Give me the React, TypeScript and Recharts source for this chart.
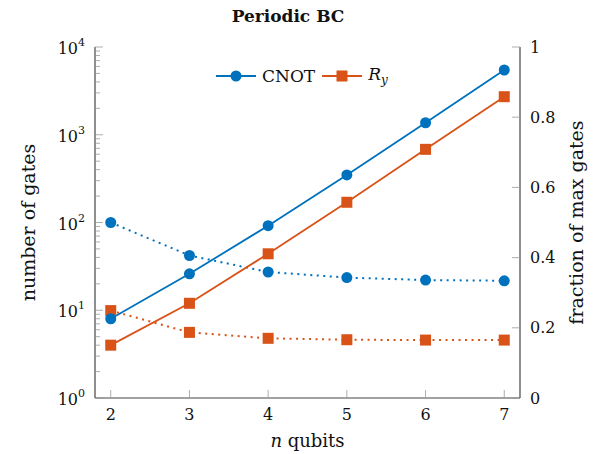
import React from "react";
import { LineChart, Line, XAxis, YAxis, Legend } from "recharts";

// n qubits
const qubits = [2, 3, 4, 5, 6, 7];
// number of gates (left, log axis)
const cnotGates = [8, 26, 92, 348, 1370, 5470];
const ryGates = [4, 12, 44, 170, 682, 2715];
// fraction of max gates (right axis)
const cnotFraction = [0.5, 0.406, 0.359, 0.343, 0.336, 0.334];
const ryFraction = [0.249, 0.187, 0.17, 0.166, 0.165, 0.165];

const leftTicks = [1, 2, 3, 4, 5, 6, 7, 8, 9, 10, 20, 30, 40, 50, 60, 70, 80, 90, 100, 200, 300, 400, 500, 600, 700, 800, 900, 1000, 2000, 3000, 4000, 5000, 6000, 7000, 8000, 9000, 10000];
const rightTicks = [0, 0.2, 0.4, 0.6, 0.8, 1];

const data = qubits.map((n, i) => ({
  n,
  cnot: cnotGates[i],
  ry: ryGates[i],
  cnotFrac: cnotFraction[i],
  ryFrac: ryFraction[i],
}));

const BLUE = "#0072bd";
const ORANGE = "#d95319";
const FRAME = { stroke: "#444", strokeWidth: 1.2 };
const TICK = "#999";
const FONT = "DejaVu Serif";
const MAJOR = 8;
const MINOR = 5;
const MARGIN = 10;

const LeftTick = (props: any) => {
  const { x, y, payload } = props;
  const exp = Math.log10(payload.value);
  const major = Math.abs(exp - Math.round(exp)) < 1e-6;
  const ax = x + MARGIN;
  return (
    <g>
      <line x1={ax} x2={ax + (major ? MAJOR : MINOR)} y1={y} y2={y} stroke={TICK} strokeWidth={0.8} />
      {major && (
        <text x={x} y={y} dy="0.45em" textAnchor="end" style={{ fontFamily: FONT }} fontSize={16} fill="#111">
          10<tspan dy={-8} fontSize={11}>{Math.round(exp)}</tspan>
        </text>
      )}
    </g>
  );
};

const RightTick = (props: any) => {
  const { x, y, payload } = props;
  const ax = x - MARGIN;
  return (
    <g>
      <line x1={ax} x2={ax - MAJOR} y1={y} y2={y} stroke={TICK} strokeWidth={0.8} />
      <text x={x} y={y} dy="0.35em" textAnchor="start" style={{ fontFamily: FONT }} fontSize={16} fill="#111">
        {payload.value}
      </text>
    </g>
  );
};

const BottomTick = (props: any) => {
  const { x, y, payload } = props;
  const ay = y - 8;
  return (
    <g>
      <line x1={x} x2={x} y1={ay} y2={ay - MAJOR} stroke={TICK} strokeWidth={0.8} />
      <text x={x} y={y} dy="0.85em" textAnchor="middle" style={{ fontFamily: FONT }} fontSize={16} fill="#111">
        {payload.value}
      </text>
    </g>
  );
};

const TopTick = (props: any) => {
  const { x, y } = props;
  const ay = y + 2;
  return <line x1={x} x2={x} y1={ay} y2={ay + MAJOR} stroke={TICK} strokeWidth={0.8} />;
};

const SquareDot = (props: any) => {
  const { cx, cy, index } = props;
  if (cx == null || cy == null) return null;
  return <rect key={index} x={cx - 5.5} y={cy - 5.5} width={11} height={11} fill={ORANGE} />;
};

const legendItems = [
  { key: "cnot", color: BLUE, marker: "circle", label: <span>CNOT</span> },
  {
    key: "ry",
    color: ORANGE,
    marker: "square",
    label: (
      <span>
        <i>R</i>
        <sub style={{ fontSize: 12 }}>
          <i>y</i>
        </sub>
      </span>
    ),
  },
];

const LegendContent = () => (
  <div style={{ display: "flex", alignItems: "center", fontFamily: FONT, fontSize: 17, color: "#111" }}>
    {legendItems.map((item) => (
      <div key={item.key} style={{ display: "flex", alignItems: "center", marginRight: 6 }}>
        <svg width={42} height={14}>
          <line x1={1} x2={41} y1={7} y2={7} stroke={item.color} strokeWidth={1.8} />
          {item.marker === "circle" ? (
            <circle cx={21} cy={7} r={5.5} fill={item.color} />
          ) : (
            <rect x={15.5} y={1.5} width={11} height={11} fill={item.color} />
          )}
        </svg>
        <span style={{ marginLeft: 5 }}>{item.label}</span>
      </div>
    ))}
  </div>
);

export default function App() {
  return (
    <div style={{ position: "absolute", left: 0, top: 0, width: 593, height: 454, background: "#fff" }}>
      <div
        style={{
          position: "absolute",
          top: 6,
          left: 188,
          width: 200,
          textAlign: "center",
          fontFamily: FONT,
          fontSize: 17,
          fontWeight: "bold",
          color: "#111",
        }}
      >
        Periodic BC
      </div>
      <LineChart width={593} height={454} data={data} margin={{ top: 47, right: 0, bottom: 0, left: 0 }}>
        <XAxis
          dataKey="n"
          type="number"
          domain={[1.8, 7.2]}
          ticks={qubits}
          axisLine={FRAME}
          tickSize={0}
          tickMargin={8}
          tick={<BottomTick />}
          height={56}
          label={{
            content: (p: any) => {
              const vb = p.viewBox;
              return (
                <text x={vb.x + vb.width / 2} y={vb.y + 49} textAnchor="middle" style={{ fontFamily: FONT }} fontSize={18} fill="#111">
                  <tspan fontStyle="italic">n</tspan> qubits
                </text>
              );
            },
          }}
        />
        <XAxis
          xAxisId="top"
          dataKey="n"
          type="number"
          orientation="top"
          domain={[1.8, 7.2]}
          ticks={qubits}
          axisLine={FRAME}
          tickSize={0}
          tickMargin={2}
          tick={<TopTick />}
          height={0}
        />
        <YAxis
          yAxisId="left"
          scale="log"
          domain={[1, 10000]}
          allowDataOverflow
          ticks={leftTicks}
          interval={0}
          axisLine={FRAME}
          tickSize={0}
          tickMargin={MARGIN}
          tick={<LeftTick />}
          width={95}
          label={{
            content: (p: any) => {
              const vb = p.viewBox;
              const cy = vb.y + vb.height / 2;
              return (
                <text x={30} y={cy} transform={`rotate(-90 30 ${cy})`} textAnchor="middle" dominantBaseline="middle" style={{ fontFamily: FONT }} fontSize={19} fill="#111">
                  number of gates
                </text>
              );
            },
          }}
        />
        <YAxis
          yAxisId="right"
          orientation="right"
          domain={[0, 1]}
          ticks={rightTicks}
          interval={0}
          axisLine={FRAME}
          tickSize={0}
          tickMargin={MARGIN}
          tick={<RightTick />}
          width={73}
          label={{
            content: (p: any) => {
              const vb = p.viewBox;
              const cy = vb.y + vb.height / 2;
              const cx = vb.x + 58;
              return (
                <text x={cx} y={cy} transform={`rotate(-90 ${cx} ${cy})`} textAnchor="middle" dominantBaseline="middle" style={{ fontFamily: FONT }} fontSize={19} fill="#111">
                  fraction of max gates
                </text>
              );
            },
          }}
        />
        <Legend
          verticalAlign="middle"
          align="center"
          content={<LegendContent />}
          wrapperStyle={{ top: 64, left: 215, width: "auto" }}
        />
        <Line
          yAxisId="right"
          dataKey="cnotFrac"
          stroke={BLUE}
          strokeWidth={2}
          strokeDasharray="2 4.5"
          dot={{ r: 5.5, fill: BLUE, stroke: "none" }}
          legendType="none"
          isAnimationActive={false}
        />
        <Line
          yAxisId="right"
          dataKey="ryFrac"
          stroke={ORANGE}
          strokeWidth={2}
          strokeDasharray="2 4.5"
          dot={<SquareDot />}
          legendType="none"
          isAnimationActive={false}
        />
        <Line
          yAxisId="left"
          dataKey="cnot"
          stroke={BLUE}
          strokeWidth={1.8}
          dot={{ r: 5.5, fill: BLUE, stroke: "none" }}
          isAnimationActive={false}
        />
        <Line
          yAxisId="left"
          dataKey="ry"
          stroke={ORANGE}
          strokeWidth={1.8}
          dot={<SquareDot />}
          isAnimationActive={false}
        />
      </LineChart>
    </div>
  );
}
